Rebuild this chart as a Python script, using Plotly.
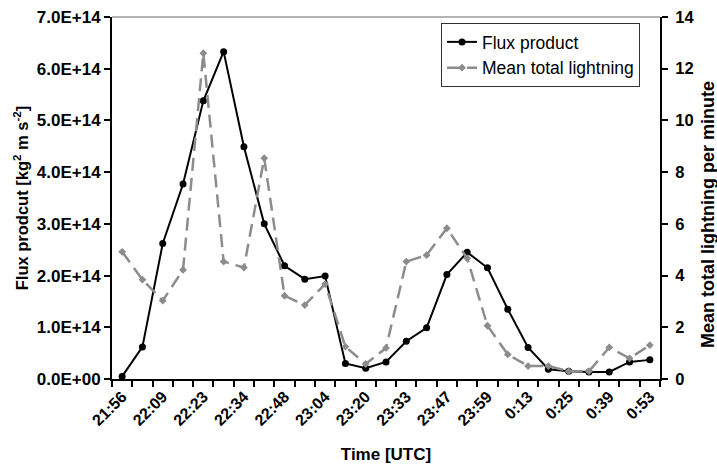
import plotly.graph_objects as go

time_labels = ["21:56", "22:09", "22:23", "22:34", "22:48", "23:04", "23:20",
               "23:33", "23:47", "23:59", "0:13", "0:25", "0:39", "0:53"]

# one sample every category; labels shown on every other category
flux_product = [0.05e14, 0.62e14, 2.62e14, 3.77e14, 5.38e14, 6.33e14, 4.49e14,
                3.00e14, 2.19e14, 1.93e14, 1.99e14, 0.30e14, 0.21e14, 0.33e14,
                0.73e14, 0.99e14, 2.02e14, 2.45e14, 2.15e14, 1.35e14, 0.61e14,
                0.19e14, 0.15e14, 0.135e14, 0.135e14, 0.33e14, 0.37e14]

mean_lightning = [4.92, 3.84, 3.03, 4.22, 12.6, 4.54, 4.31, 8.54, 3.22, 2.86,
                  3.67, 1.25, 0.58, 1.20, 4.54, 4.79, 5.83, 4.67, 2.06, 0.95,
                  0.50, 0.50, 0.30, 0.30, 1.22, 0.80, 1.31]

left_ticks = [0, 1e14, 2e14, 3e14, 4e14, 5e14, 6e14, 7e14]
right_ticks = [0, 2, 4, 6, 8, 10, 12, 14]

idx = list(range(len(flux_product)))
label_pos = idx[::2]

font_family = "Liberation Sans, Arial, sans-serif"

W, H = 717, 466
ML, MR, MT, MB = 112, 57, 17, 87
plot_w = W - ML - MR
plot_h = H - MT - MB

fig = go.Figure()
fig.add_trace(go.Scatter(
    x=idx, y=flux_product, name="Flux product", mode="lines+markers",
    line=dict(color="black", width=2),
    marker=dict(symbol="circle", size=7, color="black"),
    yaxis="y"))
fig.add_trace(go.Scatter(
    x=idx, y=mean_lightning, name="Mean total lightning", mode="lines+markers",
    line=dict(color="#8c8c8c", width=2.5, dash="13px,7px"),
    marker=dict(symbol="diamond", size=6, color="#8c8c8c"),
    yaxis="y2"))

fig.update_layout(
    width=W, height=H,
    margin=dict(l=ML, r=MR, t=MT, b=MB, autoexpand=False),
    paper_bgcolor="white", plot_bgcolor="white",
    font=dict(family=font_family, color="black"),
    showlegend=True,
    legend=dict(x=(441 - ML) / plot_w, y=1 - (23 - MT) / plot_h,
                xanchor="left", yanchor="top",
                bordercolor="#333333", borderwidth=1, bgcolor="white",
                font=dict(size=17.5, family=font_family),
                tracegroupgap=0, itemwidth=30),
    xaxis=dict(
        automargin=False,
        range=[-0.5, len(idx) - 0.5],
        tickmode="array", tickvals=label_pos, ticktext=time_labels,
        tickangle=-45, ticks="",
        tickfont=dict(size=16, family=font_family, weight="bold"),
        minor=dict(tickmode="linear", tick0=-0.5, dtick=1, ticks="outside",
                   ticklen=6, tickwidth=2, tickcolor="black"),
        showline=True, linecolor="black", linewidth=2,
        showgrid=False, zeroline=False,
        title=dict(text="Time [UTC]", standoff=20,
                   font=dict(size=17, family=font_family, weight="bold")),
    ),
    yaxis=dict(
        automargin=False,
        range=[0, 7e14], tickmode="array", tickvals=left_ticks,
        ticktext=[f"{v:.1E}" for v in left_ticks],
        ticks="outside", ticklen=6, tickwidth=2, tickcolor="black",
        tickfont=dict(size=17, family=font_family, weight="bold"),
        showline=True, linecolor="black", linewidth=2,
        showgrid=False, zeroline=False,
        title=dict(text="Flux prodcut [kg<sup>2</sup> m s<sup>-2</sup>]", standoff=4,
                   font=dict(size=16.5, family=font_family, weight="bold")),
    ),
    yaxis2=dict(
        automargin=False,
        range=[0, 14], tickmode="array", tickvals=right_ticks,
        overlaying="y", side="right",
        ticks="outside", ticklen=6, tickwidth=2, tickcolor="black",
        ticklabelstandoff=4,
        tickfont=dict(size=16.5, family=font_family, weight="bold"),
        showline=True, linecolor="black", linewidth=2,
        showgrid=False, zeroline=False,
    ),
    yaxis3=dict(
        automargin=False,
        range=[0, 14], tickmode="array", tickvals=right_ticks,
        overlaying="y", side="right", showticklabels=False,
        ticks="inside", ticklen=6, tickwidth=2, tickcolor="black",
        showline=False, showgrid=False, zeroline=False,
    ),
    annotations=[dict(
        text="<b>Mean total lightning per minute</b>",
        xref="paper", yref="paper",
        x=(708 - ML) / plot_w, y=(MT + plot_h - 214) / plot_h,
        xanchor="center", yanchor="middle", textangle=-90, showarrow=False,
        font=dict(size=18, family=font_family, color="black"))],
    shapes=[dict(type="line", xref="paper", yref="paper", x0=0, x1=1, y0=1, y1=1,
                 line=dict(color="#9a9a9a", width=1.5))],
)

fig.write_html("out.html",
               config={"displayModeBar": False},
               post_script="document.body.style.margin='0';"
                           "document.body.style.overflow='hidden';")
